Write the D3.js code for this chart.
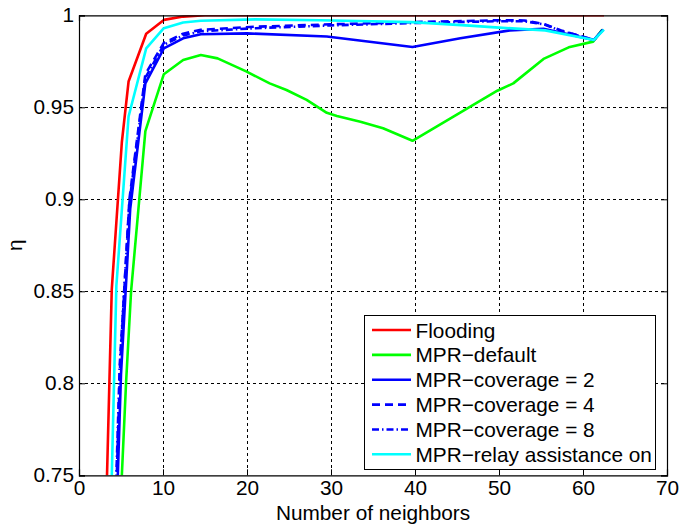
<!DOCTYPE html>
<html>
<head>
<meta charset="utf-8">
<script src="https://cdn.jsdelivr.net/npm/d3@7"></script>
<style>
  body { margin: 0; background: #fff; }
  svg { display: block; font-family: "Liberation Sans", Arial, Helvetica, sans-serif; }
</style>
</head>
<body>
<div id="chart"></div>
<script>
// tick values
var xTicks = [0, 10, 20, 30, 40, 50, 60, 70];
var yTicks = [0.75, 0.8, 0.85, 0.9, 0.95, 1];
var yTickLabels = ["0.75", "0.8", "0.85", "0.9", "0.95", "1"];

// series: [neighbors, eta]
var flooding = [[3.0, 0.69], [3.9, 0.851], [5.1, 0.931], [5.9, 0.964], [8.0, 0.990], [10.1, 0.9975],
  [12.4, 0.9993], [15, 1.0], [30, 1.0], [45, 1.0], [62.5, 1.0]];
var mprDefault = [[4.6, 0.70], [5.6, 0.80], [6.2, 0.85], [7.9, 0.937], [10.1, 0.968], [12.4, 0.9757],
  [14.5, 0.9784], [16.5, 0.9766], [19.9, 0.9695], [22.7, 0.963], [24.7, 0.9594], [27.1, 0.954],
  [29.5, 0.947], [30.7, 0.9453], [33.5, 0.9422], [36.2, 0.9386], [39.7, 0.9318], [49.8, 0.959],
  [51.7, 0.963], [55.3, 0.9763], [58.3, 0.9826], [61.2, 0.9857], [62.3, 0.9922]];
var coverage2 = [[4.0, 0.66], [5.0, 0.805], [6.1, 0.895], [7.9, 0.963], [10.1, 0.982], [12.4, 0.9875],
  [14.5, 0.9897], [20, 0.9902], [29.5, 0.9885], [39.7, 0.9828], [45.4, 0.9875], [51.3, 0.9918],
  [55.3, 0.9927], [61.3, 0.9866], [62.4, 0.9922]];
var coverage4 = [[3.9, 0.66], [4.9, 0.81], [6.0, 0.90], [7.9, 0.968], [10.1, 0.985], [12.4, 0.990],
  [14.5, 0.9921], [21, 0.9938], [30, 0.9951], [39.7, 0.9963], [50, 0.9973], [53, 0.9972],
  [55.4, 0.9952], [57.4, 0.9918], [61.3, 0.9866], [62.4, 0.9922]];
var coverage8 = [[3.85, 0.66], [4.85, 0.81], [6.0, 0.898], [7.9, 0.966], [10.1, 0.984], [12.4, 0.989],
  [14.5, 0.9913], [21, 0.993], [30, 0.9945], [39.7, 0.9958], [50, 0.9968], [53, 0.9968],
  [55.4, 0.995], [57.4, 0.9915], [61.3, 0.9866], [62.4, 0.9922]];
var relayAssist = [[3.5, 0.674], [4.45, 0.853], [5.9, 0.945], [8.0, 0.982], [10.1, 0.993], [12.4, 0.9961],
  [14.5, 0.997], [21, 0.9978], [28.7, 0.9973], [39.6, 0.9963], [46.5, 0.9944], [50, 0.9933],
  [55.5, 0.9918], [61.3, 0.9866], [62.5, 0.9922]];

var seriesNames = ["Flooding", "MPR\u2212default", "MPR\u2212coverage = 2", "MPR\u2212coverage = 4",
  "MPR\u2212coverage = 8", "MPR\u2212relay assistance on"];
var seriesData = [flooding, mprDefault, coverage2, coverage4, coverage8, relayAssist];
var seriesColors = ["#ff0000", "#00ff00", "#0000ff", "#0000ff", "#0000ff", "#00ffff"];
var seriesDash = [null, null, null, "8,5", "7,3,1.5,3", null];

var W = 679, H = 526;
var pLeft = 79, pRight = 667, pTop = 15.3, pBottom = 475.3;

var svg = d3.select("#chart").append("svg").attr("width", W).attr("height", H);

var x = d3.scaleLinear().domain([0, 70]).range([pLeft, pRight]);
var y = d3.scaleLinear().domain([0.75, 1]).range([pBottom, pTop]);

// white plot background
svg.append("rect").attr("x", pLeft).attr("y", pTop)
  .attr("width", pRight - pLeft).attr("height", pBottom - pTop).attr("fill", "#fff");

// grid
var grid = svg.append("g").attr("stroke", "#000").attr("stroke-width", 1)
  .attr("stroke-dasharray", "3,3").attr("shape-rendering", "crispEdges");
grid.selectAll("line.gx").data(xTicks.slice(1, -1)).enter().append("line")
  .attr("x1", function(d) { return Math.round(x(d)) + 0.5; })
  .attr("x2", function(d) { return Math.round(x(d)) + 0.5; })
  .attr("y1", pTop).attr("y2", pBottom);
grid.selectAll("line.gy").data(yTicks.slice(1, -1)).enter().append("line")
  .attr("y1", function(d) { return Math.round(y(d)) + 0.5; })
  .attr("y2", function(d) { return Math.round(y(d)) + 0.5; })
  .attr("x1", pLeft).attr("x2", pRight);

// lines
svg.append("clipPath").attr("id", "plotclip").append("rect")
  .attr("x", pLeft).attr("y", pTop).attr("width", pRight - pLeft).attr("height", pBottom - pTop);

var line = d3.line().x(function(d) { return x(d[0]); }).y(function(d) { return y(d[1]); });

svg.append("g").attr("clip-path", "url(#plotclip)")
  .selectAll("path").data(seriesData).enter().append("path")
  .attr("d", line)
  .attr("fill", "none")
  .attr("stroke", function(d, i) { return seriesColors[i]; })
  .attr("stroke-width", 2.6)
  .attr("stroke-linejoin", "round")
  .attr("stroke-dasharray", function(d, i) { return seriesDash[i]; });

// axes (inward ticks, box on)
var fs = 20.8;
var xAxis = svg.append("g").attr("transform", "translate(0," + pBottom + ")")
  .call(d3.axisBottom(x).tickValues(xTicks).tickSize(-6).tickPadding(5).tickFormat(d3.format("d")));
var xTop = svg.append("g").attr("transform", "translate(0," + pTop + ")")
  .call(d3.axisTop(x).tickValues(xTicks).tickSize(-6).tickFormat(""));
var yAxis = svg.append("g").attr("transform", "translate(" + pLeft + ",0)")
  .call(d3.axisLeft(y).tickValues(yTicks).tickSize(-6).tickPadding(5)
    .tickFormat(function(d, i) { return yTickLabels[i]; }));
var yRight = svg.append("g").attr("transform", "translate(" + pRight + ",0)")
  .call(d3.axisRight(y).tickValues(yTicks).tickSize(-6).tickFormat(""));

[xAxis, xTop, yAxis, yRight].forEach(function(g) {
  g.select(".domain").attr("stroke", "#000").attr("stroke-width", 1.2);
  g.selectAll(".tick line").attr("stroke", "#000");
  g.selectAll("text").attr("fill", "#000").style("font-size", fs + "px")
    .style("font-family", '"Liberation Sans", Arial, sans-serif');
});
xAxis.selectAll("text").attr("dy", "0.72em");

// axis labels
svg.append("text").attr("x", (pLeft + pRight) / 2).attr("y", 520)
  .attr("text-anchor", "middle").style("font-size", fs + "px").text("Number of neighbors");
svg.append("text").attr("transform", "translate(22," + (pTop + pBottom) / 2 + ") rotate(-90)")
  .attr("text-anchor", "middle").style("font-size", fs + "px").text("\u03b7");

// legend
var lg = svg.append("g");
lg.append("rect").attr("x", 364.5).attr("y", 315.5).attr("width", 291).attr("height", 154)
  .attr("fill", "#fff").attr("stroke", "#000").attr("stroke-width", 1);
var rows = lg.selectAll("g.row").data(seriesNames).enter().append("g")
  .attr("transform", function(d, i) { return "translate(0," + (330 + i * 24.86) + ")"; });
rows.append("line").attr("x1", 372).attr("x2", 411).attr("y1", 0).attr("y2", 0)
  .attr("stroke", function(d, i) { return seriesColors[i]; })
  .attr("stroke-width", 2.6)
  .attr("stroke-dasharray", function(d, i) { return seriesDash[i]; });
rows.append("text").attr("x", 415.5).attr("y", 0).attr("dy", "0.36em")
  .style("font-size", fs + "px").text(function(d) { return d; });
</script>
</body>
</html>
